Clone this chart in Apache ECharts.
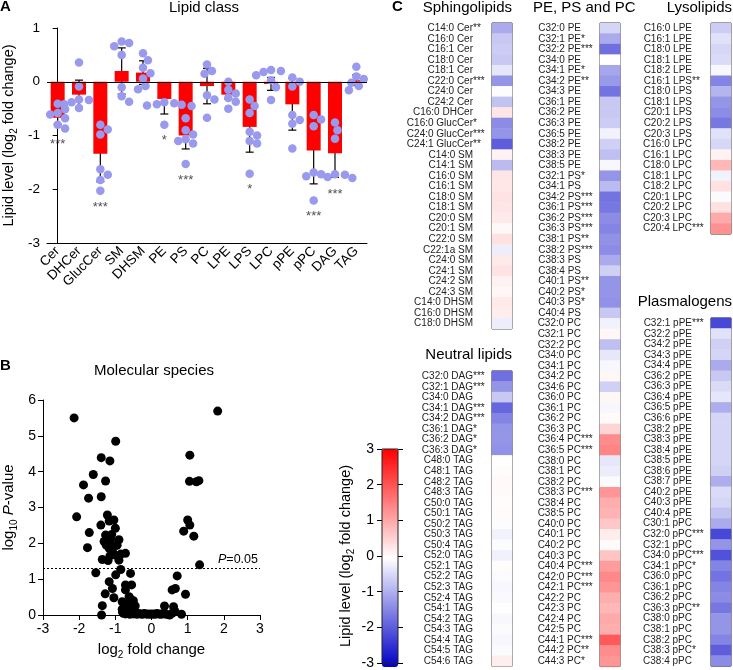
<!DOCTYPE html>
<html><head><meta charset="utf-8">
<script src="https://cdn.jsdelivr.net/npm/echarts@6/dist/echarts.min.js"></script>
<style>html,body{margin:0;padding:0;background:#fff}#c{width:733px;height:670px}</style>
</head><body><div id="c"></div>
<script>
const FONT = '"Liberation Sans", Arial, Helvetica, sans-serif';

// ---------- Panel A: lipid classes ----------
const classCats = ['Cer','DHCer','GlucCer','SM','DHSM','PE','PS','PC','LPE','LPS','LPC','pPE','pPC','DAG','TAG'];
const classMean = [-0.67,-0.24,-1.34,0.20,0.17,-0.32,-1.00,-0.08,-0.24,-0.84,-0.04,-0.42,-1.28,-1.33,0.03];
const classSem  = [0.12,0.27,0.52,0.43,0.22,0.28,0.25,0.33,0.08,0.47,0.12,0.48,0.62,0.45,0.10];
const classSig  = ['***','','***','','','*','***','','','*','','','***','***',''];
const classDots = [
  [-0.41,-0.51,-0.58,-0.61,-0.68,-0.80,-0.87],
  [0.36,-0.09,-0.33,-0.34,-0.38,-0.42,-0.49],
  [-0.80,-0.89,-0.98,-1.63,-1.73,-1.83,-2.03],
  [0.75,0.72,0.66,0.50,-0.10,-0.27,-0.37],
  [0.53,0.40,0.26,0.16,0.06,-0.08,-0.14],
  [-0.38,-0.40,-0.42,-0.43,-0.44,-0.45,-0.80],
  [-0.68,-0.90,-0.98,-1.07,-1.10,-1.15,-1.53],
  [0.32,0.20,0.15,-0.25,-0.33,-0.67],
  [0.00,-0.15,-0.22,-0.30,-0.37,-0.50],
  [-0.33,-0.45,-0.58,-0.93,-1.00,-1.10,-1.15,-1.71],
  [0.22,0.20,0.18,0.12,0.03,-0.10,-0.34],
  [0.08,0.00,-0.09,-0.62,-0.71,-0.78,-1.24],
  [-0.62,-0.70,-0.83,-1.69,-1.72,-1.76,-2.21],
  [-0.76,-0.90,-1.06,-1.72,-1.73,-1.77,-1.79],
  [0.28,0.10,0.05,-0.02,-0.08,-0.16]
];

// ---------- Panel B: molecular species (volcano) ----------
const volX = [-2.14,1.83,-0.99,-1.39,-1.15,-1.61,-1.27,1.06,1.05,1.24,1.31,
  -1.88,-1.74,-1.39,-2.07,-1.22,-1.40,-1.04,-1.17,-1.72,-1.27,-1.00,-1.77,-1.31,-1.13,-0.90,-1.17,-1.04,-1.00,-0.72,-1.08,-0.85,
  -1.36,-1.20,-0.90,-1.54,-0.85,-0.58,-0.99,-1.17,-1.08,-1.28,-1.04,-0.72,-0.55,-0.72,-0.62,-0.81,-1.36,-1.38,-0.81,-0.67,-0.53,
  -1.22,-1.10,-1.25,-0.95,-1.15,
  0.36,0.57,0.61,0.57,0.66,0.71,0.83,0.94,0.89,1.00,1.06,1.17,1.33,0.65,0.50,
  -0.78,-0.72,-0.66,-0.60,-0.55,-0.50,-0.45,-0.40,-0.35,-0.30,-0.25,-0.20,-0.15,-0.10,-0.05,0.00,0.05,0.10,0.15,0.20,0.25,0.30,0.35,0.40,
  -0.75,-0.70,-0.62,-0.58,-0.52,-0.48,-0.45,-0.80,-0.68,-0.55,-0.60,-0.50];
const volY = [5.50,5.69,4.85,4.39,4.30,3.92,3.74,4.46,3.73,3.72,3.75,
  3.63,3.26,3.30,2.74,2.79,2.51,2.65,2.62,2.30,2.23,2.42,1.88,2.05,2.10,2.10,1.86,1.90,1.67,1.72,1.75,1.70,
  1.55,1.52,1.53,1.18,1.27,1.16,1.12,0.93,0.74,0.59,0.48,0.84,0.84,0.70,0.51,0.37,0.26,0.00,0.16,0.23,0.28,
  2.00,2.25,1.95,1.95,1.65,
  0.25,0.05,0.23,0.70,0.74,1.09,0.02,0.58,2.34,2.65,2.51,2.20,1.40,0.10,0.00,
  0.05,0.03,0.06,0.02,0.04,0.03,0.05,0.02,0.04,0.03,0.02,0.04,0.03,0.02,0.03,0.02,0.03,0.02,0.04,0.03,0.02,0.03,0.04,0.02,
  0.15,0.30,0.12,0.45,0.20,0.10,0.25,0.08,0.05,0.06,0.35,0.40];
const volThreshold = 1.30;

// ---------- Panel C: heatmap blocks ----------
const sphLabels = ['C14:0 Cer**','C16:0 Cer','C16:1 Cer','C18:0 Cer','C18:1 Cer','C22:0 Cer***','C24:0 Cer','C24:2 Cer','C16:0 DHCer','C16:0 GlucCer*','C24:0 GlucCer***','C24:1 GlucCer**','C14:0 SM','C14:1 SM','C16:0 SM','C16:1 SM','C18:0 SM','C18:1 SM','C20:0 SM','C20:1 SM','C22:0 SM','C22:1a SM','C24:0 SM','C24:1 SM','C24:2 SM','C24:3 SM','C14:0 DHSM','C16:0 DHSM','C18:0 DHSM'];
const sphValues = [-1.00,-0.65,-0.60,-0.65,-0.30,-1.25,-0.03,-0.70,0.30,-1.35,-1.25,-1.90,0.15,-0.80,0.30,0.28,0.33,0.30,0.25,0.08,0.35,-0.20,0.25,0.33,0.15,0.10,0.25,0.22,-0.20];

const neuLabels = ['C32:0 DAG***','C32:1 DAG***','C34:0 DAG','C34:1 DAG***','C34:2 DAG***','C36:1 DAG*','C36:2 DAG*','C36:3 DAG*','C48:0 TAG','C48:1 TAG','C48:2 TAG','C48:3 TAG','C50:0 TAG','C50:1 TAG','C50:2 TAG','C50:3 TAG','C50:4 TAG','C52:0 TAG','C52:1 TAG','C52:2 TAG','C52:3 TAG','C52:4 TAG','C54:1 TAG','C54:2 TAG','C54:3 TAG','C54:4 TAG','C54:5 TAG','C54:6 TAG'];
const neuValues = [-1.70,-1.25,-0.65,-1.80,-1.45,-1.25,-1.25,-1.30,0.00,0.03,0.07,0.05,0.03,0.05,-0.03,-0.15,-0.03,-0.17,0.04,-0.05,-0.10,-0.07,0.02,-0.10,-0.05,-0.09,-0.05,0.20];

const gplLabels = ['C32:0 PE','C32:1 PE*','C32:2 PE***','C34:0 PE','C34:1 PE*','C34:2 PE**','C34:3 PE','C36:1 PE','C36:2 PE','C36:3 PE','C36:5 PE','C38:2 PE','C38:3 PE','C38:5 PE',
  'C32:1 PS*','C34:1 PS','C34:2 PS***','C36:1 PS***','C36:2 PS***','C36:3 PS***','C38:1 PS**','C38:2 PS***','C38:3 PS','C38:4 PS','C40:1 PS**','C40:2 PS*','C40:3 PS*','C40:4 PS',
  'C32:0 PC','C32:1 PC','C32:2 PC','C34:0 PC','C34:1 PC','C34:2 PC','C34:6 PC','C36:0 PC','C36:1 PC','C36:2 PC','C36:3 PC','C36:4 PC***','C36:5 PC***','C38:0 PC','C38:1 PC','C38:2 PC','C38:3 PC***','C38:4 PC','C38:5 PC','C40:0 PC','C40:1 PC','C40:2 PC','C40:3 PC','C40:4 PC***','C42:0 PC***','C42:1 PC***','C42:2 PC','C42:3 PC','C42:4 PC','C42:5 PC','C44:1 PC***','C44:2 PC**','C44:3 PC*'];
const gplValues = [-0.50,-1.00,-1.70,0.00,-1.05,-1.20,-1.65,-0.65,-0.65,-0.60,-0.15,-0.55,-0.75,-0.10,
  -1.25,-0.80,-1.65,-1.60,-1.35,-1.45,-1.30,-1.35,-1.00,-0.55,-1.25,-1.25,-1.30,-0.65,
  -0.15,0.10,-0.75,-0.28,-0.10,0.10,-0.55,0.10,-0.10,0.05,0.50,1.35,1.45,-0.28,-0.22,-0.05,1.25,0.95,0.90,0.65,0.22,0.05,0.70,1.15,1.40,1.25,0.95,0.85,1.00,0.95,1.95,1.35,1.25];

const lysoLabels = ['C16:0 LPE','C16:1 LPE','C18:0 LPE','C18:1 LPE','C18:2 LPE','C16:1 LPS**','C18:0 LPS','C18:1 LPS','C20:1 LPS','C20:2 LPS','C20:3 LPS','C16:0 LPC','C16:1 LPC','C18:0 LPC','C18:1 LPC','C18:2 LPC','C20:1 LPC','C20:2 LPC','C20:3 LPC','C20:4 LPC***'];
const lysoValues = [-0.60,-0.35,-0.48,-0.42,-0.10,-1.45,-0.88,-1.25,-1.35,-1.60,-0.35,-0.48,0.15,0.85,-0.15,0.35,-0.05,0.35,1.00,1.30];

const plasLabels = ['C32:1 pPE***','C32:2 pPE','C34:2 pPE','C34:3 pPE','C34:4 pPE','C36:2 pPE','C36:3 pPE','C36:4 pPE','C36:5 pPE','C36:6 pPE','C38:2 pPE','C38:3 pPE','C38:4 pPE','C38:5 pPE','C38:6 pPE','C38:7 pPE','C40:2 pPE','C40:3 pPE','C40:4 pPE',
  'C30:1 pPC','C32:0 pPC***','C32:1 pPC','C34:0 pPC***','C34:1 pPC*','C36:0 pPC','C36:1 pPC','C36:2 pPC','C36:3 pPC**','C38:0 pPC','C38:1 pPC','C38:2 pPC','C38:3 pPC*','C38:4 pPC'];
const plasValues = [-2.15,-0.35,-0.55,-0.50,-1.00,-0.65,-0.42,-0.30,-0.95,-0.50,-0.50,-0.50,-0.50,-0.50,-0.55,-0.95,-0.42,-0.50,-0.70,
  -1.00,-2.15,-1.25,-2.05,-1.45,-1.65,-1.45,-1.35,-1.60,-1.25,-1.25,-1.45,-1.90,-1.35];

const colorTicks = [-3,-2,-1,0,1,2,3];

// ---------- layout ----------
const ROW = 10.55;
const A = {left:44, top:28, width:323, height:215};
const B = {left:42, top:400, width:218, height:215};
const blocks = [
  {labels:sphLabels, values:sphValues, left:492, top:23},
  {labels:neuLabels, values:neuValues, left:492, top:371},
  {labels:gplLabels, values:gplValues, left:600, top:23},
  {labels:lysoLabels, values:lysoValues, left:711, top:23},
  {labels:plasLabels, values:plasValues, left:711, top:318}
];
const CB = {left:382, top:449, width:16, height:218};

const txt = {fontFamily: FONT, color:'#000'};
const blackLine = {lineStyle:{color:'#000', width:1}};

// beeswarm offsets (px) for dots of panel A
const pxPerUnit = A.height / 4, band = A.width / classCats.length, D = 7.6;
function swarm(vals){
  const order = vals.map((v,i)=>i).sort((a,b)=>vals[b]-vals[a]);
  const placed = [], off = [];
  for (const i of order){
    const y = vals[i]*pxPerUnit;
    for (let k=0;k<30;k++){
      const c = k===0 ? 0 : (k%2 ? 1 : -1)*Math.ceil(k/2)*2.5;
      if (placed.every(p => (p.x-c)*(p.x-c)+(p.y-y)*(p.y-y) >= D*D)){ off[i]=c; placed.push({x:c,y}); break; }
    }
    if (off[i]===undefined) off[i]=0;
  }
  return off;
}
const dotData = [];
classDots.forEach((vals,ci)=>{
  const off = swarm(vals);
  vals.forEach((v,j)=>dotData.push([ci + off[j]/band, v]));
});
const sigData = classSig.map((s,i)=>({name:s, value:[i, Math.min(classMean[i]-classSem[i], ...classDots[i]) - 0.3]})).filter(d=>d.name);

// row-label rich styles: base text right-aligned, stars overflow in a fixed 12px box
const mctx = document.createElement('canvas').getContext('2d');
mctx.font = '10px ' + FONT;
const STARW = 12;
const rowRich = {b:{fontSize:10, fontFamily:FONT, color:'#222'}, b0:{fontSize:10, fontFamily:FONT, color:'#222', padding:[0,STARW,0,0]}};
[1,2,3].forEach(k=>{ const w = mctx.measureText('*'.repeat(k)).width;
  rowRich['s'+k] = {fontSize:10, fontFamily:FONT, color:'#222', padding:[0, Math.max(0, STARW-w), 0, 0]}; });
function rowLabel(s){ const m = s.match(/^(.*?)(\**)$/);
  return m[2] ? '{b|'+m[1]+'}{s'+m[2].length+'|'+m[2]+'}' : '{b0|'+m[1]+'}'; }

const grid = [], xAxis = [], yAxis = [], series = [];
// Panel A
grid.push({left:A.left, top:A.top, width:A.width, height:A.height});
xAxis.push({type:'category', gridIndex:0, data:classCats, position:'bottom',
  axisLine:{onZero:false, ...blackLine}, axisTick:{alignWithLabel:true, length:5, ...blackLine},
  axisLabel:{rotate:45, fontSize:13.5, margin:6, interval:0, ...txt}});
xAxis.push({type:'value', gridIndex:0, min:-0.5, max:classCats.length-0.5, show:false});
yAxis.push({type:'value', gridIndex:0, min:-3, max:1, interval:1, axisLine:{show:true,...blackLine},
  axisTick:{show:true, length:5, ...blackLine}, splitLine:{show:false},
  axisLabel:{fontSize:13.5, margin:7, ...txt},
  name:'{n|Lipid level (log}{s|2}{n| fold change)}', nameLocation:'middle', nameRotate:90, nameGap:28,
  nameTextStyle:{rich:{n:{fontSize:14.5, fontFamily:FONT, color:'#000', lineHeight:15, verticalAlign:'bottom', padding:[0,0,3,0]},
    s:{fontSize:10, fontFamily:FONT, color:'#000', lineHeight:10, verticalAlign:'bottom'}}}});
// Panel B
grid.push({left:B.left, top:B.top, width:B.width, height:B.height});
xAxis.push({type:'value', gridIndex:1, min:-3, max:3, interval:1, splitLine:{show:false},
  axisLine:{onZero:false, ...blackLine}, axisTick:{length:5, ...blackLine}, axisLabel:{fontSize:14, margin:7, ...txt},
  name:'{n|log}{s|2}{n| fold change}', nameLocation:'middle', nameGap:30,
  nameTextStyle:{rich:{n:{fontSize:15, fontFamily:FONT, color:'#000', lineHeight:15, verticalAlign:'bottom', padding:[0,0,3,0]},
    s:{fontSize:10, fontFamily:FONT, color:'#000', lineHeight:10, verticalAlign:'bottom'}}}});
yAxis.push({type:'value', gridIndex:1, min:0, max:6, interval:1, splitLine:{show:false},
  axisLine:{show:true, onZero:false, ...blackLine}, axisTick:{show:true, length:5, ...blackLine}, axisLabel:{fontSize:14, margin:7, ...txt},
  name:'{n|log}{s|10}{i| P}{n|-value}', nameLocation:'middle', nameRotate:90, nameGap:24,
  nameTextStyle:{rich:{n:{fontSize:15, fontFamily:FONT, color:'#000', lineHeight:15, verticalAlign:'bottom', padding:[0,0,3,0]},
    i:{fontSize:15, fontStyle:'italic', fontFamily:FONT, color:'#000', lineHeight:15, verticalAlign:'bottom', padding:[0,0,3,0]},
    s:{fontSize:10, fontFamily:FONT, color:'#000', lineHeight:10, verticalAlign:'bottom'}}}});

// error bars
series.push({type:'custom', xAxisIndex:0, yAxisIndex:0, z:1,
  data: classMean.map((m,i)=>[i, m-classSem[i], m+classSem[i]]),
  renderItem:(params, api)=>{
    const lo = api.coord([api.value(0), api.value(1)]), hi = api.coord([api.value(0), api.value(2)]);
    const w = 4;
    const st = {stroke:'#000', lineWidth:1.2};
    return {type:'group', children:[
      {type:'line', shape:{x1:lo[0], y1:lo[1], x2:hi[0], y2:hi[1]}, style:st},
      {type:'line', shape:{x1:lo[0]-w, y1:lo[1], x2:lo[0]+w, y2:lo[1]}, style:st},
      {type:'line', shape:{x1:hi[0]-w, y1:hi[1], x2:hi[0]+w, y2:hi[1]}, style:st}
    ]};
  }});
series.push({type:'bar', xAxisIndex:0, yAxisIndex:0, z:2, data:classMean, barWidth:14,
  itemStyle:{color:'#FF0000'},
  markLine:{silent:true, symbol:'none', label:{show:false}, lineStyle:{color:'#000', width:1, type:'solid'}, data:[{yAxis:0}]}});
series.push({type:'scatter', xAxisIndex:1, yAxisIndex:0, z:3, data:dotData, symbolSize:8.5,
  itemStyle:{color:'#9999EE', opacity:1}, clip:false});
series.push({type:'scatter', xAxisIndex:0, yAxisIndex:0, z:4, data:sigData, symbolSize:0,
  label:{show:true, position:'inside', formatter:'{b}', fontSize:13, fontFamily:FONT, color:'#222'}});
// volcano
series.push({type:'scatter', xAxisIndex:2, yAxisIndex:1, data:volX.map((x,i)=>[x, volY[i]]), symbolSize:9,
  itemStyle:{color:'#000', opacity:1}, clip:false,
  markLine:{silent:true, symbol:'none', lineStyle:{color:'#000', width:1, type:[2,2]}, data:[{yAxis:volThreshold}],
    label:{show:true, position:'insideEndTop', distance:2, formatter:'{i|P}{n|=0.05}',
      rich:{i:{fontStyle:'italic', fontSize:12.5, fontFamily:FONT, color:'#000'}, n:{fontSize:12.5, fontFamily:FONT, color:'#000'}}}}});

// heatmap blocks
const heatIdx = [];
blocks.forEach((b)=>{
  const gi = grid.length;
  grid.push({left:b.left, top:b.top, width:20, height:b.labels.length*ROW, show:true, borderColor:'#222', borderWidth:1, backgroundColor:'transparent'});
  xAxis.push({type:'category', gridIndex:gi, data:['v'], show:false});
  yAxis.push({type:'category', gridIndex:gi, data:b.labels, inverse:true, axisLine:{show:false}, axisTick:{show:false},
    axisLabel:{interval:0, margin:7, formatter:rowLabel, rich:rowRich}});
  heatIdx.push(series.length);
  series.push({type:'heatmap', xAxisIndex:xAxis.length-1, yAxisIndex:yAxis.length-1, z:1,
    data:b.values.map((v,i)=>[0,i,v]), itemStyle:{borderWidth:0}});
});
// colorbar axes
const cbG = grid.length;
grid.push({left:CB.left, top:CB.top, width:CB.width, height:CB.height, show:true, borderColor:'#222', borderWidth:1, backgroundColor:'transparent', z:10});
xAxis.push({type:'value', gridIndex:cbG, show:false, min:0, max:1});
yAxis.push({type:'value', gridIndex:cbG, min:colorTicks[0], max:colorTicks[colorTicks.length-1], interval:1, position:'left',
  axisLine:{show:false}, axisTick:{show:true, length:5, ...blackLine}, splitLine:{show:false},
  axisLabel:{fontSize:14, margin:8, ...txt},
  name:'{n|Lipid level (log}{s|2}{n| fold change)}', nameLocation:'middle', nameRotate:90, nameGap:26,
  nameTextStyle:{rich:{n:{fontSize:14.5, fontFamily:FONT, color:'#000', lineHeight:15, verticalAlign:'bottom', padding:[0,0,3,0]},
    s:{fontSize:10, fontFamily:FONT, color:'#000', lineHeight:10, verticalAlign:'bottom'}}}});
yAxis.push({type:'value', gridIndex:cbG, min:colorTicks[0], max:colorTicks[colorTicks.length-1], interval:1, position:'right',
  axisLine:{show:false}, axisTick:{show:true, length:5, ...blackLine}, splitLine:{show:false}, axisLabel:{show:false}});
series.push({type:'scatter', xAxisIndex:xAxis.length-1, yAxisIndex:yAxis.length-2, data:[]});

const graphic = [
  {type:'text', style:{text:'A', x:0, y:7, font:'bold 15px '+FONT, fill:'#000', textVerticalAlign:'middle'}},
  {type:'text', style:{text:'Lipid class', x:204, y:8, font:'15px '+FONT, fill:'#000', textAlign:'center', textVerticalAlign:'middle'}},
  {type:'text', style:{text:'B', x:0, y:366, font:'bold 15px '+FONT, fill:'#000', textVerticalAlign:'middle'}},
  {type:'text', style:{text:'Molecular species', x:154, y:371, font:'15px '+FONT, fill:'#000', textAlign:'center', textVerticalAlign:'middle'}},
  {type:'text', style:{text:'C', x:392, y:7, font:'bold 15px '+FONT, fill:'#000', textVerticalAlign:'middle'}},
  {type:'text', style:{text:'Sphingolipids', x:512, y:8, font:'15px '+FONT, fill:'#000', textAlign:'right', textVerticalAlign:'middle'}},
  {type:'text', style:{text:'PE, PS and PC', x:533, y:8, font:'15px '+FONT, fill:'#000', textAlign:'left', textVerticalAlign:'middle'}},
  {type:'text', style:{text:'Lysolipids', x:732, y:8, font:'15px '+FONT, fill:'#000', textAlign:'right', textVerticalAlign:'middle'}},
  {type:'text', style:{text:'Neutral lipids', x:512, y:355, font:'15px '+FONT, fill:'#000', textAlign:'right', textVerticalAlign:'middle'}},
  {type:'text', style:{text:'Plasmalogens', x:732, y:302, font:'15px '+FONT, fill:'#000', textAlign:'right', textVerticalAlign:'middle'}}
];

const chart = echarts.init(document.getElementById('c'), null, {renderer:'canvas'});
chart.setOption({
  animation:false, backgroundColor:'#fff', textStyle:{fontFamily:FONT},
  grid, xAxis, yAxis, series, graphic,
  visualMap:{type:'continuous', min:-3, max:3, seriesIndex:heatIdx, calculable:false, hoverLink:false,
    left:CB.left, top:CB.top, itemWidth:CB.width, itemHeight:CB.height, padding:0, text:null, showLabel:false,
    inRange:{color:['#0000C8','#FFFFFF','#FF0000']}}
});
</script></body></html>
